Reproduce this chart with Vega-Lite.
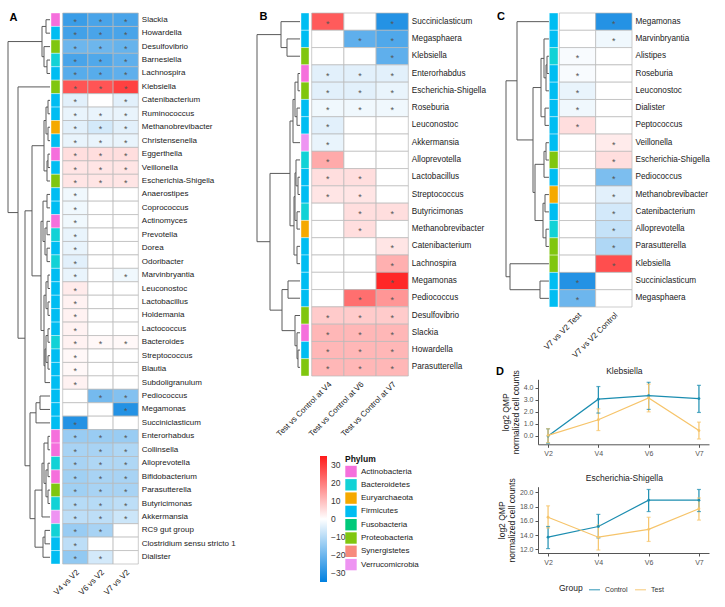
{
"$schema": "https://vega.github.io/schema/vega-lite/v6.json",
"width": 725, "height": 607, "autosize": {"type": "none"}, "padding": 0, "background": "white",
"config": {"view": {"stroke": null}, "font": "Liberation Sans", "axis": {"grid": false, "labelFont": "Liberation Sans", "titleFont": "Liberation Sans"}, "legend": {"labelFont": "Liberation Sans", "titleFont": "Liberation Sans"}, "text": {"font": "Liberation Sans"}},
"datasets": {
"heatA": [
{"g":"Slackia","p":"Actinobacteria","c":"V4 vs V2","v":-27,"s":1},{"g":"Slackia","p":"Actinobacteria","c":"V6 vs V2","v":-25,"s":1},{"g":"Slackia","p":"Actinobacteria","c":"V7 vs V2","v":-25,"s":1},
{"g":"Howardella","p":"Firmicutes","c":"V4 vs V2","v":-26,"s":1},{"g":"Howardella","p":"Firmicutes","c":"V6 vs V2","v":-25,"s":1},{"g":"Howardella","p":"Firmicutes","c":"V7 vs V2","v":-25,"s":1},
{"g":"Desulfovibrio","p":"Proteobacteria","c":"V4 vs V2","v":-20,"s":1},{"g":"Desulfovibrio","p":"Proteobacteria","c":"V6 vs V2","v":-20,"s":1},{"g":"Desulfovibrio","p":"Proteobacteria","c":"V7 vs V2","v":-21,"s":1},
{"g":"Barnesiella","p":"Bacteroidetes","c":"V4 vs V2","v":-25,"s":1},{"g":"Barnesiella","p":"Bacteroidetes","c":"V6 vs V2","v":-24,"s":1},{"g":"Barnesiella","p":"Bacteroidetes","c":"V7 vs V2","v":-22,"s":1},
{"g":"Lachnospira","p":"Firmicutes","c":"V4 vs V2","v":-23,"s":1},{"g":"Lachnospira","p":"Firmicutes","c":"V6 vs V2","v":-23,"s":1},{"g":"Lachnospira","p":"Firmicutes","c":"V7 vs V2","v":-22,"s":1},
{"g":"Klebsiella","p":"Proteobacteria","c":"V4 vs V2","v":26,"s":1},{"g":"Klebsiella","p":"Proteobacteria","c":"V6 vs V2","v":26,"s":1},{"g":"Klebsiella","p":"Proteobacteria","c":"V7 vs V2","v":29,"s":1},
{"g":"Catenibacterium","p":"Firmicutes","c":"V4 vs V2","v":-4,"s":1},{"g":"Catenibacterium","p":"Firmicutes","c":"V6 vs V2","v":0,"s":0},{"g":"Catenibacterium","p":"Firmicutes","c":"V7 vs V2","v":-4,"s":1},
{"g":"Ruminococcus","p":"Firmicutes","c":"V4 vs V2","v":-3,"s":1},{"g":"Ruminococcus","p":"Firmicutes","c":"V6 vs V2","v":-3,"s":1},{"g":"Ruminococcus","p":"Firmicutes","c":"V7 vs V2","v":-3,"s":1},
{"g":"Methanobrevibacter","p":"Euryarchaeota","c":"V4 vs V2","v":-4,"s":1},{"g":"Methanobrevibacter","p":"Euryarchaeota","c":"V6 vs V2","v":-6,"s":1},{"g":"Methanobrevibacter","p":"Euryarchaeota","c":"V7 vs V2","v":-4,"s":1},
{"g":"Christensenella","p":"Firmicutes","c":"V4 vs V2","v":-3,"s":1},{"g":"Christensenella","p":"Firmicutes","c":"V6 vs V2","v":-3,"s":1},{"g":"Christensenella","p":"Firmicutes","c":"V7 vs V2","v":-3,"s":1},
{"g":"Eggerthella","p":"Actinobacteria","c":"V4 vs V2","v":5,"s":1},{"g":"Eggerthella","p":"Actinobacteria","c":"V6 vs V2","v":5,"s":1},{"g":"Eggerthella","p":"Actinobacteria","c":"V7 vs V2","v":5,"s":1},
{"g":"Veillonella","p":"Firmicutes","c":"V4 vs V2","v":4,"s":1},{"g":"Veillonella","p":"Firmicutes","c":"V6 vs V2","v":4,"s":1},{"g":"Veillonella","p":"Firmicutes","c":"V7 vs V2","v":4,"s":1},
{"g":"Escherichia-Shigella","p":"Proteobacteria","c":"V4 vs V2","v":4,"s":1},{"g":"Escherichia-Shigella","p":"Proteobacteria","c":"V6 vs V2","v":4,"s":1},{"g":"Escherichia-Shigella","p":"Proteobacteria","c":"V7 vs V2","v":4,"s":1},
{"g":"Anaerostipes","p":"Firmicutes","c":"V4 vs V2","v":-2,"s":1},{"g":"Anaerostipes","p":"Firmicutes","c":"V6 vs V2","v":0,"s":0},{"g":"Anaerostipes","p":"Firmicutes","c":"V7 vs V2","v":0,"s":0},
{"g":"Coprococcus","p":"Firmicutes","c":"V4 vs V2","v":-2,"s":1},{"g":"Coprococcus","p":"Firmicutes","c":"V6 vs V2","v":0,"s":0},{"g":"Coprococcus","p":"Firmicutes","c":"V7 vs V2","v":0,"s":0},
{"g":"Actinomyces","p":"Actinobacteria","c":"V4 vs V2","v":-2,"s":1},{"g":"Actinomyces","p":"Actinobacteria","c":"V6 vs V2","v":0,"s":0},{"g":"Actinomyces","p":"Actinobacteria","c":"V7 vs V2","v":0,"s":0},
{"g":"Prevotella","p":"Bacteroidetes","c":"V4 vs V2","v":-3,"s":1},{"g":"Prevotella","p":"Bacteroidetes","c":"V6 vs V2","v":0,"s":0},{"g":"Prevotella","p":"Bacteroidetes","c":"V7 vs V2","v":0,"s":0},
{"g":"Dorea","p":"Firmicutes","c":"V4 vs V2","v":-3,"s":1},{"g":"Dorea","p":"Firmicutes","c":"V6 vs V2","v":0,"s":0},{"g":"Dorea","p":"Firmicutes","c":"V7 vs V2","v":0,"s":0},
{"g":"Odoribacter","p":"Bacteroidetes","c":"V4 vs V2","v":-4,"s":1},{"g":"Odoribacter","p":"Bacteroidetes","c":"V6 vs V2","v":0,"s":0},{"g":"Odoribacter","p":"Bacteroidetes","c":"V7 vs V2","v":0,"s":0},
{"g":"Marvinbryantia","p":"Firmicutes","c":"V4 vs V2","v":-3,"s":1},{"g":"Marvinbryantia","p":"Firmicutes","c":"V6 vs V2","v":0,"s":0},{"g":"Marvinbryantia","p":"Firmicutes","c":"V7 vs V2","v":-2,"s":1},
{"g":"Leuconostoc","p":"Firmicutes","c":"V4 vs V2","v":3,"s":1},{"g":"Leuconostoc","p":"Firmicutes","c":"V6 vs V2","v":0,"s":0},{"g":"Leuconostoc","p":"Firmicutes","c":"V7 vs V2","v":0,"s":0},
{"g":"Lactobacillus","p":"Firmicutes","c":"V4 vs V2","v":2,"s":1},{"g":"Lactobacillus","p":"Firmicutes","c":"V6 vs V2","v":0,"s":0},{"g":"Lactobacillus","p":"Firmicutes","c":"V7 vs V2","v":0,"s":0},
{"g":"Holdemania","p":"Firmicutes","c":"V4 vs V2","v":2,"s":1},{"g":"Holdemania","p":"Firmicutes","c":"V6 vs V2","v":0,"s":0},{"g":"Holdemania","p":"Firmicutes","c":"V7 vs V2","v":0,"s":0},
{"g":"Lactococcus","p":"Firmicutes","c":"V4 vs V2","v":2,"s":1},{"g":"Lactococcus","p":"Firmicutes","c":"V6 vs V2","v":0,"s":0},{"g":"Lactococcus","p":"Firmicutes","c":"V7 vs V2","v":0,"s":0},
{"g":"Bacteroides","p":"Bacteroidetes","c":"V4 vs V2","v":2,"s":1},{"g":"Bacteroides","p":"Bacteroidetes","c":"V6 vs V2","v":1,"s":1},{"g":"Bacteroides","p":"Bacteroidetes","c":"V7 vs V2","v":1,"s":1},
{"g":"Streptococcus","p":"Firmicutes","c":"V4 vs V2","v":1,"s":1},{"g":"Streptococcus","p":"Firmicutes","c":"V6 vs V2","v":0,"s":0},{"g":"Streptococcus","p":"Firmicutes","c":"V7 vs V2","v":0,"s":0},
{"g":"Blautia","p":"Firmicutes","c":"V4 vs V2","v":1,"s":1},{"g":"Blautia","p":"Firmicutes","c":"V6 vs V2","v":0,"s":0},{"g":"Blautia","p":"Firmicutes","c":"V7 vs V2","v":0,"s":0},
{"g":"Subdoligranulum","p":"Firmicutes","c":"V4 vs V2","v":2,"s":1},{"g":"Subdoligranulum","p":"Firmicutes","c":"V6 vs V2","v":0,"s":0},{"g":"Subdoligranulum","p":"Firmicutes","c":"V7 vs V2","v":0,"s":0},
{"g":"Pediococcus","p":"Firmicutes","c":"V4 vs V2","v":0,"s":0},{"g":"Pediococcus","p":"Firmicutes","c":"V6 vs V2","v":-19,"s":1},{"g":"Pediococcus","p":"Firmicutes","c":"V7 vs V2","v":-17,"s":1},
{"g":"Megamonas","p":"Firmicutes","c":"V4 vs V2","v":0,"s":0},{"g":"Megamonas","p":"Firmicutes","c":"V6 vs V2","v":0,"s":0},{"g":"Megamonas","p":"Firmicutes","c":"V7 vs V2","v":-30,"s":1},
{"g":"Succiniclasticum","p":"Firmicutes","c":"V4 vs V2","v":-30,"s":1},{"g":"Succiniclasticum","p":"Firmicutes","c":"V6 vs V2","v":0,"s":0},{"g":"Succiniclasticum","p":"Firmicutes","c":"V7 vs V2","v":0,"s":0},
{"g":"Enterorhabdus","p":"Actinobacteria","c":"V4 vs V2","v":-14,"s":1},{"g":"Enterorhabdus","p":"Actinobacteria","c":"V6 vs V2","v":-14,"s":1},{"g":"Enterorhabdus","p":"Actinobacteria","c":"V7 vs V2","v":-14,"s":1},
{"g":"Collinsella","p":"Actinobacteria","c":"V4 vs V2","v":-12,"s":1},{"g":"Collinsella","p":"Actinobacteria","c":"V6 vs V2","v":-12,"s":1},{"g":"Collinsella","p":"Actinobacteria","c":"V7 vs V2","v":-11,"s":1},
{"g":"Alloprevotella","p":"Bacteroidetes","c":"V4 vs V2","v":-12,"s":1},{"g":"Alloprevotella","p":"Bacteroidetes","c":"V6 vs V2","v":-11,"s":1},{"g":"Alloprevotella","p":"Bacteroidetes","c":"V7 vs V2","v":-11,"s":1},
{"g":"Bifidobacterium","p":"Actinobacteria","c":"V4 vs V2","v":-13,"s":1},{"g":"Bifidobacterium","p":"Actinobacteria","c":"V6 vs V2","v":-12,"s":1},{"g":"Bifidobacterium","p":"Actinobacteria","c":"V7 vs V2","v":-12,"s":1},
{"g":"Parasutterella","p":"Proteobacteria","c":"V4 vs V2","v":-13,"s":1},{"g":"Parasutterella","p":"Proteobacteria","c":"V6 vs V2","v":-12,"s":1},{"g":"Parasutterella","p":"Proteobacteria","c":"V7 vs V2","v":-12,"s":1},
{"g":"Butyricimonas","p":"Bacteroidetes","c":"V4 vs V2","v":-10,"s":1},{"g":"Butyricimonas","p":"Bacteroidetes","c":"V6 vs V2","v":-10,"s":1},{"g":"Butyricimonas","p":"Bacteroidetes","c":"V7 vs V2","v":-9,"s":1},
{"g":"Akkermansia","p":"Verrucomicrobia","c":"V4 vs V2","v":-9,"s":1},{"g":"Akkermansia","p":"Verrucomicrobia","c":"V6 vs V2","v":-9,"s":1},{"g":"Akkermansia","p":"Verrucomicrobia","c":"V7 vs V2","v":-7,"s":1},
{"g":"RC9 gut group","p":"Bacteroidetes","c":"V4 vs V2","v":-14,"s":1},{"g":"RC9 gut group","p":"Bacteroidetes","c":"V6 vs V2","v":-12,"s":1},{"g":"RC9 gut group","p":"Bacteroidetes","c":"V7 vs V2","v":0,"s":0},
{"g":"Clostridium sensu stricto 1","p":"Firmicutes","c":"V4 vs V2","v":-9,"s":1},{"g":"Clostridium sensu stricto 1","p":"Firmicutes","c":"V6 vs V2","v":0,"s":0},{"g":"Clostridium sensu stricto 1","p":"Firmicutes","c":"V7 vs V2","v":0,"s":0},
{"g":"Dialister","p":"Firmicutes","c":"V4 vs V2","v":-15,"s":1},{"g":"Dialister","p":"Firmicutes","c":"V6 vs V2","v":-6,"s":1},{"g":"Dialister","p":"Firmicutes","c":"V7 vs V2","v":0,"s":0}
],
"heatB": [
{"g":"Succiniclasticum","p":"Firmicutes","c":"Test vs Control at V4","v":25,"s":1},{"g":"Succiniclasticum","p":"Firmicutes","c":"Test vs Control at V6","v":0,"s":0},{"g":"Succiniclasticum","p":"Firmicutes","c":"Test vs Control at V7","v":-30,"s":1},
{"g":"Megasphaera","p":"Firmicutes","c":"Test vs Control at V4","v":0,"s":0},{"g":"Megasphaera","p":"Firmicutes","c":"Test vs Control at V6","v":-22,"s":1},{"g":"Megasphaera","p":"Firmicutes","c":"Test vs Control at V7","v":-24,"s":1},
{"g":"Klebsiella","p":"Proteobacteria","c":"Test vs Control at V4","v":0,"s":0},{"g":"Klebsiella","p":"Proteobacteria","c":"Test vs Control at V6","v":0,"s":0},{"g":"Klebsiella","p":"Proteobacteria","c":"Test vs Control at V7","v":-22,"s":1},
{"g":"Enterorhabdus","p":"Actinobacteria","c":"Test vs Control at V4","v":-4,"s":1},{"g":"Enterorhabdus","p":"Actinobacteria","c":"Test vs Control at V6","v":-4,"s":1},{"g":"Enterorhabdus","p":"Actinobacteria","c":"Test vs Control at V7","v":-4,"s":1},
{"g":"Escherichia-Shigella","p":"Proteobacteria","c":"Test vs Control at V4","v":-4,"s":1},{"g":"Escherichia-Shigella","p":"Proteobacteria","c":"Test vs Control at V6","v":-4,"s":1},{"g":"Escherichia-Shigella","p":"Proteobacteria","c":"Test vs Control at V7","v":-3,"s":1},
{"g":"Roseburia","p":"Firmicutes","c":"Test vs Control at V4","v":-2,"s":1},{"g":"Roseburia","p":"Firmicutes","c":"Test vs Control at V6","v":-2,"s":1},{"g":"Roseburia","p":"Firmicutes","c":"Test vs Control at V7","v":-2,"s":1},
{"g":"Leuconostoc","p":"Firmicutes","c":"Test vs Control at V4","v":-4,"s":1},{"g":"Leuconostoc","p":"Firmicutes","c":"Test vs Control at V6","v":0,"s":0},{"g":"Leuconostoc","p":"Firmicutes","c":"Test vs Control at V7","v":0,"s":0},
{"g":"Akkermansia","p":"Verrucomicrobia","c":"Test vs Control at V4","v":-3,"s":1},{"g":"Akkermansia","p":"Verrucomicrobia","c":"Test vs Control at V6","v":0,"s":0},{"g":"Akkermansia","p":"Verrucomicrobia","c":"Test vs Control at V7","v":0,"s":0},
{"g":"Alloprevotella","p":"Bacteroidetes","c":"Test vs Control at V4","v":13,"s":1},{"g":"Alloprevotella","p":"Bacteroidetes","c":"Test vs Control at V6","v":0,"s":0},{"g":"Alloprevotella","p":"Bacteroidetes","c":"Test vs Control at V7","v":0,"s":0},
{"g":"Lactobacillus","p":"Firmicutes","c":"Test vs Control at V4","v":5,"s":1},{"g":"Lactobacillus","p":"Firmicutes","c":"Test vs Control at V6","v":5,"s":1},{"g":"Lactobacillus","p":"Firmicutes","c":"Test vs Control at V7","v":0,"s":0},
{"g":"Streptococcus","p":"Firmicutes","c":"Test vs Control at V4","v":4,"s":1},{"g":"Streptococcus","p":"Firmicutes","c":"Test vs Control at V6","v":4,"s":1},{"g":"Streptococcus","p":"Firmicutes","c":"Test vs Control at V7","v":0,"s":0},
{"g":"Butyricimonas","p":"Bacteroidetes","c":"Test vs Control at V4","v":0,"s":0},{"g":"Butyricimonas","p":"Bacteroidetes","c":"Test vs Control at V6","v":5,"s":1},{"g":"Butyricimonas","p":"Bacteroidetes","c":"Test vs Control at V7","v":5,"s":1},
{"g":"Methanobrevibacter","p":"Euryarchaeota","c":"Test vs Control at V4","v":0,"s":0},{"g":"Methanobrevibacter","p":"Euryarchaeota","c":"Test vs Control at V6","v":5,"s":1},{"g":"Methanobrevibacter","p":"Euryarchaeota","c":"Test vs Control at V7","v":0,"s":0},
{"g":"Catenibacterium","p":"Firmicutes","c":"Test vs Control at V4","v":0,"s":0},{"g":"Catenibacterium","p":"Firmicutes","c":"Test vs Control at V6","v":0,"s":0},{"g":"Catenibacterium","p":"Firmicutes","c":"Test vs Control at V7","v":4,"s":1},
{"g":"Lachnospira","p":"Firmicutes","c":"Test vs Control at V4","v":0,"s":0},{"g":"Lachnospira","p":"Firmicutes","c":"Test vs Control at V6","v":0,"s":0},{"g":"Lachnospira","p":"Firmicutes","c":"Test vs Control at V7","v":12,"s":1},
{"g":"Megamonas","p":"Firmicutes","c":"Test vs Control at V4","v":0,"s":0},{"g":"Megamonas","p":"Firmicutes","c":"Test vs Control at V6","v":0,"s":0},{"g":"Megamonas","p":"Firmicutes","c":"Test vs Control at V7","v":33,"s":1},
{"g":"Pediococcus","p":"Firmicutes","c":"Test vs Control at V4","v":0,"s":0},{"g":"Pediococcus","p":"Firmicutes","c":"Test vs Control at V6","v":22,"s":1},{"g":"Pediococcus","p":"Firmicutes","c":"Test vs Control at V7","v":16,"s":1},
{"g":"Desulfovibrio","p":"Proteobacteria","c":"Test vs Control at V4","v":8,"s":1},{"g":"Desulfovibrio","p":"Proteobacteria","c":"Test vs Control at V6","v":8,"s":1},{"g":"Desulfovibrio","p":"Proteobacteria","c":"Test vs Control at V7","v":8,"s":1},
{"g":"Slackia","p":"Actinobacteria","c":"Test vs Control at V4","v":11,"s":1},{"g":"Slackia","p":"Actinobacteria","c":"Test vs Control at V6","v":11,"s":1},{"g":"Slackia","p":"Actinobacteria","c":"Test vs Control at V7","v":11,"s":1},
{"g":"Howardella","p":"Firmicutes","c":"Test vs Control at V4","v":11,"s":1},{"g":"Howardella","p":"Firmicutes","c":"Test vs Control at V6","v":11,"s":1},{"g":"Howardella","p":"Firmicutes","c":"Test vs Control at V7","v":11,"s":1},
{"g":"Parasutterella","p":"Proteobacteria","c":"Test vs Control at V4","v":11,"s":1},{"g":"Parasutterella","p":"Proteobacteria","c":"Test vs Control at V6","v":11,"s":1},{"g":"Parasutterella","p":"Proteobacteria","c":"Test vs Control at V7","v":11,"s":1}
],
"heatC": [
{"g":"Megamonas","p":"Firmicutes","c":"V7 vs V2 Test","v":0,"s":0},{"g":"Megamonas","p":"Firmicutes","c":"V7 vs V2 Control","v":-30,"s":1},
{"g":"Marvinbryantia","p":"Firmicutes","c":"V7 vs V2 Test","v":0,"s":0},{"g":"Marvinbryantia","p":"Firmicutes","c":"V7 vs V2 Control","v":-2,"s":1},
{"g":"Alistipes","p":"Bacteroidetes","c":"V7 vs V2 Test","v":-1,"s":1},{"g":"Alistipes","p":"Bacteroidetes","c":"V7 vs V2 Control","v":0,"s":0},
{"g":"Roseburia","p":"Firmicutes","c":"V7 vs V2 Test","v":-1,"s":1},{"g":"Roseburia","p":"Firmicutes","c":"V7 vs V2 Control","v":0,"s":0},
{"g":"Leuconostoc","p":"Firmicutes","c":"V7 vs V2 Test","v":-3,"s":1},{"g":"Leuconostoc","p":"Firmicutes","c":"V7 vs V2 Control","v":0,"s":0},
{"g":"Dialister","p":"Firmicutes","c":"V7 vs V2 Test","v":-2,"s":1},{"g":"Dialister","p":"Firmicutes","c":"V7 vs V2 Control","v":0,"s":0},
{"g":"Peptococcus","p":"Firmicutes","c":"V7 vs V2 Test","v":5,"s":1},{"g":"Peptococcus","p":"Firmicutes","c":"V7 vs V2 Control","v":0,"s":0},
{"g":"Veillonella","p":"Firmicutes","c":"V7 vs V2 Test","v":0,"s":0},{"g":"Veillonella","p":"Firmicutes","c":"V7 vs V2 Control","v":3,"s":1},
{"g":"Escherichia-Shigella","p":"Proteobacteria","c":"V7 vs V2 Test","v":0,"s":0},{"g":"Escherichia-Shigella","p":"Proteobacteria","c":"V7 vs V2 Control","v":5,"s":1},
{"g":"Pediococcus","p":"Firmicutes","c":"V7 vs V2 Test","v":0,"s":0},{"g":"Pediococcus","p":"Firmicutes","c":"V7 vs V2 Control","v":-18,"s":1},
{"g":"Methanobrevibacter","p":"Euryarchaeota","c":"V7 vs V2 Test","v":0,"s":0},{"g":"Methanobrevibacter","p":"Euryarchaeota","c":"V7 vs V2 Control","v":-4,"s":1},
{"g":"Catenibacterium","p":"Firmicutes","c":"V7 vs V2 Test","v":0,"s":0},{"g":"Catenibacterium","p":"Firmicutes","c":"V7 vs V2 Control","v":-6,"s":1},
{"g":"Alloprevotella","p":"Bacteroidetes","c":"V7 vs V2 Test","v":0,"s":0},{"g":"Alloprevotella","p":"Bacteroidetes","c":"V7 vs V2 Control","v":-8,"s":1},
{"g":"Parasutterella","p":"Proteobacteria","c":"V7 vs V2 Test","v":0,"s":0},{"g":"Parasutterella","p":"Proteobacteria","c":"V7 vs V2 Control","v":-11,"s":1},
{"g":"Klebsiella","p":"Proteobacteria","c":"V7 vs V2 Test","v":0,"s":0},{"g":"Klebsiella","p":"Proteobacteria","c":"V7 vs V2 Control","v":27,"s":1},
{"g":"Succiniclasticum","p":"Firmicutes","c":"V7 vs V2 Test","v":-30,"s":1},{"g":"Succiniclasticum","p":"Firmicutes","c":"V7 vs V2 Control","v":0,"s":0},
{"g":"Megasphaera","p":"Firmicutes","c":"V7 vs V2 Test","v":-20,"s":1},{"g":"Megasphaera","p":"Firmicutes","c":"V7 vs V2 Control","v":0,"s":0}
],
"dendA": [
{"h1":0,"h2":4,"y1":1,"y2":1},{"h1":0,"h2":4,"y1":2,"y2":2},{"h1":4,"h2":4,"y1":1,"y2":2},
{"h1":0,"h2":3,"y1":4,"y2":4},{"h1":0,"h2":3,"y1":5,"y2":5},{"h1":3,"h2":3,"y1":4,"y2":5},
{"h1":0,"h2":6,"y1":3,"y2":3},{"h1":3,"h2":6,"y1":4.5,"y2":4.5},{"h1":6,"h2":6,"y1":3,"y2":4.5},
{"h1":4,"h2":8,"y1":1.5,"y2":1.5},{"h1":6,"h2":8,"y1":3.75,"y2":3.75},{"h1":8,"h2":8,"y1":1.5,"y2":3.75},
{"h1":0,"h2":2,"y1":7,"y2":7},{"h1":0,"h2":2,"y1":8,"y2":8},{"h1":2,"h2":2,"y1":7,"y2":8},
{"h1":0,"h2":2,"y1":9,"y2":9},{"h1":0,"h2":2,"y1":10,"y2":10},{"h1":2,"h2":2,"y1":9,"y2":10},
{"h1":2,"h2":4,"y1":7.5,"y2":7.5},{"h1":2,"h2":4,"y1":9.5,"y2":9.5},{"h1":4,"h2":4,"y1":7.5,"y2":9.5},
{"h1":0,"h2":2,"y1":11,"y2":11},{"h1":0,"h2":2,"y1":12,"y2":12},{"h1":2,"h2":2,"y1":11,"y2":12},
{"h1":2,"h2":3,"y1":11.5,"y2":11.5},{"h1":0,"h2":3,"y1":13,"y2":13},{"h1":3,"h2":3,"y1":11.5,"y2":13},
{"h1":4,"h2":6,"y1":8.5,"y2":8.5},{"h1":3,"h2":6,"y1":12.25,"y2":12.25},{"h1":6,"h2":6,"y1":8.5,"y2":12.25},
{"h1":0,"h2":3,"y1":14,"y2":14},{"h1":0,"h2":3,"y1":15,"y2":15},{"h1":3,"h2":3,"y1":14,"y2":15},
{"h1":0,"h2":3,"y1":16,"y2":16},{"h1":0,"h2":3,"y1":17,"y2":17},{"h1":3,"h2":3,"y1":16,"y2":17},
{"h1":0,"h2":3,"y1":18,"y2":18},{"h1":0,"h2":3,"y1":19,"y2":19},{"h1":3,"h2":3,"y1":18,"y2":19},
{"h1":3,"h2":5,"y1":16.5,"y2":16.5},{"h1":3,"h2":5,"y1":18.5,"y2":18.5},{"h1":5,"h2":5,"y1":16.5,"y2":18.5},
{"h1":3,"h2":7,"y1":14.5,"y2":14.5},{"h1":5,"h2":7,"y1":17.5,"y2":17.5},{"h1":7,"h2":7,"y1":14.5,"y2":17.5},
{"h1":0,"h2":2,"y1":20,"y2":20},{"h1":0,"h2":2,"y1":21,"y2":21},{"h1":2,"h2":2,"y1":20,"y2":21},
{"h1":0,"h2":2,"y1":22,"y2":22},{"h1":0,"h2":2,"y1":23,"y2":23},{"h1":2,"h2":2,"y1":22,"y2":23},
{"h1":0,"h2":2,"y1":24,"y2":24},{"h1":0,"h2":2,"y1":25,"y2":25},{"h1":2,"h2":2,"y1":24,"y2":25},
{"h1":0,"h2":2,"y1":26,"y2":26},{"h1":0,"h2":2,"y1":27,"y2":27},{"h1":2,"h2":2,"y1":26,"y2":27},
{"h1":2,"h2":4,"y1":20.5,"y2":20.5},{"h1":2,"h2":4,"y1":22.5,"y2":22.5},{"h1":4,"h2":4,"y1":20.5,"y2":22.5},
{"h1":2,"h2":4,"y1":24.5,"y2":24.5},{"h1":2,"h2":4,"y1":26.5,"y2":26.5},{"h1":4,"h2":4,"y1":24.5,"y2":26.5},
{"h1":4,"h2":5,"y1":25.5,"y2":25.5},{"h1":0,"h2":5,"y1":28,"y2":28},{"h1":5,"h2":5,"y1":25.5,"y2":28},
{"h1":4,"h2":6,"y1":21.5,"y2":21.5},{"h1":5,"h2":6,"y1":26.75,"y2":26.75},{"h1":6,"h2":6,"y1":21.5,"y2":26.75},
{"h1":7,"h2":9,"y1":16,"y2":16},{"h1":6,"h2":9,"y1":24.125,"y2":24.125},{"h1":9,"h2":9,"y1":16,"y2":24.125},
{"h1":6,"h2":18,"y1":10.375,"y2":10.375},{"h1":9,"h2":18,"y1":20.06,"y2":20.06},{"h1":18,"h2":18,"y1":10.375,"y2":20.06},
{"h1":0,"h2":10,"y1":29,"y2":29},{"h1":0,"h2":10,"y1":30,"y2":30},{"h1":10,"h2":10,"y1":29,"y2":30},
{"h1":10,"h2":14,"y1":29.5,"y2":29.5},{"h1":0,"h2":14,"y1":31,"y2":31},{"h1":14,"h2":14,"y1":29.5,"y2":31},
{"h1":0,"h2":2,"y1":32,"y2":32},{"h1":0,"h2":2,"y1":33,"y2":33},{"h1":2,"h2":2,"y1":32,"y2":33},
{"h1":0,"h2":2,"y1":34,"y2":34},{"h1":0,"h2":2,"y1":35,"y2":35},{"h1":2,"h2":2,"y1":34,"y2":35},
{"h1":0,"h2":2,"y1":36,"y2":36},{"h1":0,"h2":2,"y1":37,"y2":37},{"h1":2,"h2":2,"y1":36,"y2":37},
{"h1":2,"h2":4,"y1":34.5,"y2":34.5},{"h1":2,"h2":4,"y1":36.5,"y2":36.5},{"h1":4,"h2":4,"y1":34.5,"y2":36.5},
{"h1":2,"h2":6,"y1":32.5,"y2":32.5},{"h1":4,"h2":6,"y1":35.5,"y2":35.5},{"h1":6,"h2":6,"y1":32.5,"y2":35.5},
{"h1":6,"h2":8,"y1":34,"y2":34},{"h1":0,"h2":8,"y1":38,"y2":38},{"h1":8,"h2":8,"y1":34,"y2":38},
{"h1":0,"h2":5,"y1":39,"y2":39},{"h1":0,"h2":5,"y1":40,"y2":40},{"h1":5,"h2":5,"y1":39,"y2":40},
{"h1":5,"h2":7,"y1":39.5,"y2":39.5},{"h1":0,"h2":7,"y1":41,"y2":41},{"h1":7,"h2":7,"y1":39.5,"y2":41},
{"h1":8,"h2":15,"y1":36,"y2":36},{"h1":7,"h2":15,"y1":40.25,"y2":40.25},{"h1":15,"h2":15,"y1":36,"y2":40.25},
{"h1":14,"h2":20,"y1":30.25,"y2":30.25},{"h1":15,"h2":20,"y1":38.125,"y2":38.125},{"h1":20,"h2":20,"y1":30.25,"y2":38.125},
{"h1":18,"h2":25,"y1":15.22,"y2":15.22},{"h1":20,"h2":25,"y1":34.19,"y2":34.19},{"h1":25,"h2":25,"y1":15.22,"y2":34.19},
{"h1":0,"h2":32,"y1":6,"y2":6},{"h1":25,"h2":32,"y1":24.7,"y2":24.7},{"h1":32,"h2":32,"y1":6,"y2":24.7},
{"h1":8,"h2":42,"y1":2.625,"y2":2.625},{"h1":32,"h2":42,"y1":15.35,"y2":15.35},{"h1":42,"h2":42,"y1":2.625,"y2":15.35}
],
"dendB": [
{"h1":0,"h2":13,"y1":2,"y2":2},{"h1":0,"h2":13,"y1":3,"y2":3},{"h1":13,"h2":13,"y1":2,"y2":3},
{"h1":0,"h2":19,"y1":1,"y2":1},{"h1":13,"h2":19,"y1":2.5,"y2":2.5},{"h1":19,"h2":19,"y1":1,"y2":2.5},
{"h1":0,"h2":2,"y1":4,"y2":4},{"h1":0,"h2":2,"y1":5,"y2":5},{"h1":2,"h2":2,"y1":4,"y2":5},
{"h1":0,"h2":3,"y1":6,"y2":6},{"h1":0,"h2":3,"y1":7,"y2":7},{"h1":3,"h2":3,"y1":6,"y2":7},
{"h1":2,"h2":5,"y1":4.5,"y2":4.5},{"h1":3,"h2":5,"y1":6.5,"y2":6.5},{"h1":5,"h2":5,"y1":4.5,"y2":6.5},
{"h1":5,"h2":7,"y1":5.5,"y2":5.5},{"h1":0,"h2":7,"y1":8,"y2":8},{"h1":7,"h2":7,"y1":5.5,"y2":8},
{"h1":0,"h2":2,"y1":10,"y2":10},{"h1":0,"h2":2,"y1":11,"y2":11},{"h1":2,"h2":2,"y1":10,"y2":11},
{"h1":0,"h2":4,"y1":9,"y2":9},{"h1":2,"h2":4,"y1":10.5,"y2":10.5},{"h1":4,"h2":4,"y1":9,"y2":10.5},
{"h1":0,"h2":3,"y1":12,"y2":12},{"h1":0,"h2":3,"y1":13,"y2":13},{"h1":3,"h2":3,"y1":12,"y2":13},
{"h1":4,"h2":5,"y1":9.75,"y2":9.75},{"h1":3,"h2":5,"y1":12.5,"y2":12.5},{"h1":5,"h2":5,"y1":9.75,"y2":12.5},
{"h1":0,"h2":3,"y1":14,"y2":14},{"h1":0,"h2":3,"y1":15,"y2":15},{"h1":3,"h2":3,"y1":14,"y2":15},
{"h1":5,"h2":6,"y1":11.125,"y2":11.125},{"h1":3,"h2":6,"y1":14.5,"y2":14.5},{"h1":6,"h2":6,"y1":11.125,"y2":14.5},
{"h1":7,"h2":10,"y1":6.75,"y2":6.75},{"h1":6,"h2":10,"y1":12.81,"y2":12.81},{"h1":10,"h2":10,"y1":6.75,"y2":12.81},
{"h1":0,"h2":12,"y1":16,"y2":16},{"h1":0,"h2":12,"y1":17,"y2":17},{"h1":12,"h2":12,"y1":16,"y2":17},
{"h1":0,"h2":2,"y1":20,"y2":20},{"h1":0,"h2":2,"y1":21,"y2":21},{"h1":2,"h2":2,"y1":20,"y2":21},
{"h1":0,"h2":3,"y1":19,"y2":19},{"h1":2,"h2":3,"y1":20.5,"y2":20.5},{"h1":3,"h2":3,"y1":19,"y2":20.5},
{"h1":0,"h2":5,"y1":18,"y2":18},{"h1":3,"h2":5,"y1":19.75,"y2":19.75},{"h1":5,"h2":5,"y1":18,"y2":19.75},
{"h1":12,"h2":18,"y1":16.5,"y2":16.5},{"h1":5,"h2":18,"y1":18.875,"y2":18.875},{"h1":18,"h2":18,"y1":16.5,"y2":18.875},
{"h1":10,"h2":30,"y1":9.78,"y2":9.78},{"h1":18,"h2":30,"y1":17.69,"y2":17.69},{"h1":30,"h2":30,"y1":9.78,"y2":17.69},
{"h1":19,"h2":43,"y1":1.75,"y2":1.75},{"h1":30,"h2":43,"y1":13.73,"y2":13.73},{"h1":43,"h2":43,"y1":1.75,"y2":13.73}
],
"dendC": [
{"h1":0,"h2":2,"y1":3,"y2":3},{"h1":0,"h2":2,"y1":4,"y2":4},{"h1":2,"h2":2,"y1":3,"y2":4},
{"h1":2,"h2":3,"y1":3.5,"y2":3.5},{"h1":0,"h2":3,"y1":5,"y2":5},{"h1":3,"h2":3,"y1":3.5,"y2":5},
{"h1":0,"h2":5,"y1":2,"y2":2},{"h1":3,"h2":5,"y1":4.25,"y2":4.25},{"h1":5,"h2":5,"y1":2,"y2":4.25},
{"h1":0,"h2":4,"y1":6,"y2":6},{"h1":0,"h2":4,"y1":7,"y2":7},{"h1":4,"h2":4,"y1":6,"y2":7},
{"h1":5,"h2":8,"y1":3.125,"y2":3.125},{"h1":4,"h2":8,"y1":6.5,"y2":6.5},{"h1":8,"h2":8,"y1":3.125,"y2":6.5},
{"h1":0,"h2":3,"y1":8,"y2":8},{"h1":0,"h2":3,"y1":9,"y2":9},{"h1":3,"h2":3,"y1":8,"y2":9},
{"h1":3,"h2":5,"y1":8.5,"y2":8.5},{"h1":0,"h2":5,"y1":10,"y2":10},{"h1":5,"h2":5,"y1":8.5,"y2":10},
{"h1":0,"h2":4,"y1":11,"y2":11},{"h1":0,"h2":4,"y1":12,"y2":12},{"h1":4,"h2":4,"y1":11,"y2":12},
{"h1":0,"h2":3,"y1":13,"y2":13},{"h1":0,"h2":3,"y1":14,"y2":14},{"h1":3,"h2":3,"y1":13,"y2":14},
{"h1":4,"h2":6,"y1":11.5,"y2":11.5},{"h1":3,"h2":6,"y1":13.5,"y2":13.5},{"h1":6,"h2":6,"y1":11.5,"y2":13.5},
{"h1":5,"h2":14,"y1":9.25,"y2":9.25},{"h1":6,"h2":14,"y1":12.5,"y2":12.5},{"h1":14,"h2":14,"y1":9.25,"y2":12.5},
{"h1":8,"h2":16,"y1":4.81,"y2":4.81},{"h1":14,"h2":16,"y1":10.875,"y2":10.875},{"h1":16,"h2":16,"y1":4.81,"y2":10.875},
{"h1":0,"h2":32,"y1":1,"y2":1},{"h1":16,"h2":32,"y1":7.84,"y2":7.84},{"h1":32,"h2":32,"y1":1,"y2":7.84},
{"h1":0,"h2":9,"y1":16,"y2":16},{"h1":0,"h2":9,"y1":17,"y2":17},{"h1":9,"h2":9,"y1":16,"y2":17},
{"h1":0,"h2":39,"y1":15,"y2":15},{"h1":9,"h2":39,"y1":16.5,"y2":16.5},{"h1":39,"h2":39,"y1":15,"y2":16.5},
{"h1":32,"h2":43,"y1":4.42,"y2":4.42},{"h1":39,"h2":43,"y1":15.75,"y2":15.75},{"h1":43,"h2":43,"y1":4.42,"y2":15.75}
],
"qmp": [
{"gen":"Klebsiella","grp":"Control","vis":"V2","m":0,"lo":-0.6,"hi":0.6},
{"gen":"Klebsiella","grp":"Control","vis":"V4","m":3.05,"lo":1.9,"hi":4.1},
{"gen":"Klebsiella","grp":"Control","vis":"V6","m":3.35,"lo":2.2,"hi":4.45},
{"gen":"Klebsiella","grp":"Control","vis":"V7","m":3.1,"lo":1.95,"hi":4.2},
{"gen":"Klebsiella","grp":"Test","vis":"V2","m":0.05,"lo":-0.55,"hi":0.6},
{"gen":"Klebsiella","grp":"Test","vis":"V4","m":1.35,"lo":0.45,"hi":2.25},
{"gen":"Klebsiella","grp":"Test","vis":"V6","m":3.15,"lo":2.0,"hi":4.3},
{"gen":"Klebsiella","grp":"Test","vis":"V7","m":0.45,"lo":-0.25,"hi":1.15},
{"gen":"Escherichia-Shigella","grp":"Control","vis":"V2","m":13.7,"lo":12.1,"hi":15.2},
{"gen":"Escherichia-Shigella","grp":"Control","vis":"V4","m":15.2,"lo":13.6,"hi":16.9},
{"gen":"Escherichia-Shigella","grp":"Control","vis":"V6","m":18.9,"lo":17.3,"hi":20.4},
{"gen":"Escherichia-Shigella","grp":"Control","vis":"V7","m":18.9,"lo":17.3,"hi":20.4},
{"gen":"Escherichia-Shigella","grp":"Test","vis":"V2","m":16.5,"lo":15.0,"hi":18.1},
{"gen":"Escherichia-Shigella","grp":"Test","vis":"V4","m":13.7,"lo":11.9,"hi":15.4},
{"gen":"Escherichia-Shigella","grp":"Test","vis":"V6","m":14.8,"lo":13.1,"hi":16.5},
{"gen":"Escherichia-Shigella","grp":"Test","vis":"V7","m":17.7,"lo":16.1,"hi":19.2}
]
},
"layer": [
{"data": {"name": "dendA"}, "layer": [
 {"mark": {"type": "rule", "color": "#5a5a5a", "strokeWidth": 1},
  "encoding": {"x": {"field": "h1", "type": "quantitative", "scale": {"domain": [0, 42], "range": [50, 8], "zero": false, "nice": false}, "axis": null},
   "x2": {"field": "h2"},
   "y": {"field": "y1", "type": "quantitative", "scale": {"domain": [0.5, 41.5], "range": [13, 564], "zero": false, "nice": false}, "axis": null},
   "y2": {"field": "y2"}}},
 {"data": {"values": [{"t": "A"}]}, "mark": {"type": "text", "fontSize": 11, "fontWeight": "bold", "color": "#000"},
  "encoding": {"x": {"datum": 36.5, "type": "quantitative"}, "y": {"datum": 0.87, "type": "quantitative"}, "text": {"field": "t"}}}
]},
{"data": {"name": "heatA"}, "transform": [{"filter": "datum.c == 'V4 vs V2'"}],
 "mark": {"type": "rect", "stroke": "#ffffff", "strokeWidth": 0.4},
 "encoding": {"x": {"datum": "Phylum", "type": "nominal", "scale": {"range": [51, 60], "paddingInner": 0, "paddingOuter": 0}, "axis": null},
  "y": {"field": "g", "type": "nominal", "sort": null, "scale": {"range": [13, 564], "paddingInner": 0, "paddingOuter": 0}, "axis": null},
  "color": {"field": "p", "type": "nominal", "scale": {"domain": ["Actinobacteria","Bacteroidetes","Euryarchaeota","Firmicutes","Fusobacteria","Proteobacteria","Synergistetes","Verrucomicrobia"], "range": ["#f56fdc","#12d2d6","#f5a900","#00bdf2","#00c97a","#80c60f","#f78a7c","#ee94f2"]},
   "legend": {"orient": "none", "legendX": 345, "legendY": 455, "title": "Phylum", "titleFontSize": 8.5, "titleFontWeight": "bold", "titleColor": "#111", "titlePadding": 2, "labelFontSize": 8, "labelColor": "#222", "symbolType": "square", "symbolSize": 130, "symbolStrokeWidth": 0, "symbolOpacity": 1, "rowPadding": 1.3, "labelOffset": 4, "padding": 0}}}},
{"data": {"name": "heatA"}, "layer": [
 {"mark": {"type": "rect", "stroke": "#b8b8b8", "strokeWidth": 0.7},
  "encoding": {"x": {"field": "c", "type": "nominal", "sort": null, "scale": {"range": [62.7, 138.3], "paddingInner": 0, "paddingOuter": 0}, "axis": {"orient": "bottom", "offset": -43, "title": null, "labelAngle": -45, "ticks": false, "domain": false, "labelFontSize": 8, "labelColor": "#1a1a1a", "labelPadding": 4}},
   "y": {"field": "g", "type": "nominal", "sort": null, "scale": {"range": [13, 564], "paddingInner": 0, "paddingOuter": 0}, "axis": {"orient": "right", "offset": -586.7, "title": null, "ticks": false, "domain": false, "labelFontSize": 8, "labelColor": "#1a1a1a", "labelPadding": 3}},
   "color": {"field": "v", "type": "quantitative", "scale": {"domain": [-35, 0, 35], "range": ["#0080e0", "#ffffff", "#ff1a1a"], "interpolate": "rgb"},
    "legend": {"orient": "none", "legendX": 320, "legendY": 456, "direction": "vertical", "gradientLength": 126, "gradientThickness": 7, "title": null, "values": [-30, -20, -10, 0, 10, 20, 30], "labelFontSize": 8.5, "labelColor": "#333", "labelOffset": 4, "gradientStrokeWidth": 0, "padding": 0}}}},
 {"mark": {"type": "text", "fontSize": 9, "color": "#555", "dy": 2},
  "encoding": {"x": {"field": "c", "type": "nominal", "sort": null}, "y": {"field": "g", "type": "nominal", "sort": null},
   "text": {"condition": {"test": "datum.s == 1", "value": "*"}, "value": ""}}}
]},
{"data": {"name": "dendB"}, "layer": [
 {"mark": {"type": "rule", "color": "#5a5a5a", "strokeWidth": 1},
  "encoding": {"x": {"field": "h1", "type": "quantitative", "scale": {"domain": [0, 43], "range": [300, 257], "zero": false, "nice": false}, "axis": null},
   "x2": {"field": "h2"},
   "y": {"field": "y1", "type": "quantitative", "scale": {"domain": [0.5, 21.5], "range": [13, 376], "zero": false, "nice": false}, "axis": null},
   "y2": {"field": "y2"}}},
 {"data": {"values": [{"t": "B"}]}, "mark": {"type": "text", "fontSize": 11, "fontWeight": "bold", "color": "#000"},
  "encoding": {"x": {"datum": 36.5, "type": "quantitative"}, "y": {"datum": 0.73, "type": "quantitative"}, "text": {"field": "t"}}}
]},
{"data": {"name": "heatB"}, "transform": [{"filter": "datum.c == 'Test vs Control at V4'"}],
 "mark": {"type": "rect", "stroke": "#ffffff", "strokeWidth": 0.4},
 "encoding": {"x": {"datum": "Phylum", "type": "nominal", "scale": {"range": [301, 309], "paddingInner": 0, "paddingOuter": 0}, "axis": null},
  "y": {"field": "g", "type": "nominal", "sort": null, "scale": {"range": [13, 376], "paddingInner": 0, "paddingOuter": 0}, "axis": null},
  "color": {"field": "p", "type": "nominal", "scale": {"domain": ["Actinobacteria","Bacteroidetes","Euryarchaeota","Firmicutes","Fusobacteria","Proteobacteria","Synergistetes","Verrucomicrobia"], "range": ["#f56fdc","#12d2d6","#f5a900","#00bdf2","#00c97a","#80c60f","#f78a7c","#ee94f2"]}, "legend": null}}},
{"data": {"name": "heatB"}, "layer": [
 {"mark": {"type": "rect", "stroke": "#b8b8b8", "strokeWidth": 0.7},
  "encoding": {"x": {"field": "c", "type": "nominal", "sort": null, "scale": {"range": [311.7, 408.3], "paddingInner": 0, "paddingOuter": 0}, "axis": {"orient": "bottom", "offset": -231, "title": null, "labelAngle": -45, "ticks": false, "domain": false, "labelFontSize": 8, "labelColor": "#1a1a1a", "labelPadding": 4}},
   "y": {"field": "g", "type": "nominal", "sort": null, "scale": {"range": [13, 376], "paddingInner": 0, "paddingOuter": 0}, "axis": {"orient": "right", "offset": -316.7, "title": null, "ticks": false, "domain": false, "labelFontSize": 8.2, "labelColor": "#1a1a1a", "labelPadding": 3}},
   "color": {"field": "v", "type": "quantitative", "scale": {"domain": [-35, 0, 35], "range": ["#0080e0", "#ffffff", "#ff1a1a"], "interpolate": "rgb"}, "legend": null}}},
 {"mark": {"type": "text", "fontSize": 9, "color": "#555", "dy": 2},
  "encoding": {"x": {"field": "c", "type": "nominal", "sort": null}, "y": {"field": "g", "type": "nominal", "sort": null},
   "text": {"condition": {"test": "datum.s == 1", "value": "*"}, "value": ""}}}
]},
{"data": {"name": "dendC"}, "layer": [
 {"mark": {"type": "rule", "color": "#5a5a5a", "strokeWidth": 1},
  "encoding": {"x": {"field": "h1", "type": "quantitative", "scale": {"domain": [0, 43], "range": [549, 506], "zero": false, "nice": false}, "axis": null},
   "x2": {"field": "h2"},
   "y": {"field": "y1", "type": "quantitative", "scale": {"domain": [0.5, 17.5], "range": [13, 307], "zero": false, "nice": false}, "axis": null},
   "y2": {"field": "y2"}}},
 {"data": {"values": [{"t": "C"}]}, "mark": {"type": "text", "fontSize": 11, "fontWeight": "bold", "color": "#000"},
  "encoding": {"x": {"datum": 48, "type": "quantitative"}, "y": {"datum": 0.73, "type": "quantitative"}, "text": {"field": "t"}}},
 {"data": {"values": [{"t": "D"}]}, "mark": {"type": "text", "fontSize": 11, "fontWeight": "bold", "color": "#000"},
  "encoding": {"x": {"datum": 49, "type": "quantitative"}, "y": {"datum": 21.26, "type": "quantitative"}, "text": {"field": "t"}}}
]},
{"data": {"name": "heatC"}, "transform": [{"filter": "datum.c == 'V7 vs V2 Test'"}],
 "mark": {"type": "rect", "stroke": "#ffffff", "strokeWidth": 0.4},
 "encoding": {"x": {"datum": "Phylum", "type": "nominal", "scale": {"range": [549.3, 558], "paddingInner": 0, "paddingOuter": 0}, "axis": null},
  "y": {"field": "g", "type": "nominal", "sort": null, "scale": {"range": [13, 307], "paddingInner": 0, "paddingOuter": 0}, "axis": null},
  "color": {"field": "p", "type": "nominal", "scale": {"domain": ["Actinobacteria","Bacteroidetes","Euryarchaeota","Firmicutes","Fusobacteria","Proteobacteria","Synergistetes","Verrucomicrobia"], "range": ["#f56fdc","#12d2d6","#f5a900","#00bdf2","#00c97a","#80c60f","#f78a7c","#ee94f2"]}, "legend": null}}},
{"data": {"name": "heatC"}, "layer": [
 {"mark": {"type": "rect", "stroke": "#b8b8b8", "strokeWidth": 0.7},
  "encoding": {"x": {"field": "c", "type": "nominal", "sort": null, "scale": {"range": [559.3, 632], "paddingInner": 0, "paddingOuter": 0}, "axis": {"orient": "bottom", "offset": -300, "title": null, "labelAngle": -45, "ticks": false, "domain": false, "labelFontSize": 8, "labelColor": "#1a1a1a", "labelPadding": 4}},
   "y": {"field": "g", "type": "nominal", "sort": null, "scale": {"range": [13, 307], "paddingInner": 0, "paddingOuter": 0}, "axis": {"orient": "right", "offset": -93, "title": null, "ticks": false, "domain": false, "labelFontSize": 8.2, "labelColor": "#1a1a1a", "labelPadding": 3}},
   "color": {"field": "v", "type": "quantitative", "scale": {"domain": [-35, 0, 35], "range": ["#0080e0", "#ffffff", "#ff1a1a"], "interpolate": "rgb"}, "legend": null}}},
 {"mark": {"type": "text", "fontSize": 9, "color": "#555", "dy": 2},
  "encoding": {"x": {"field": "c", "type": "nominal", "sort": null}, "y": {"field": "g", "type": "nominal", "sort": null},
   "text": {"condition": {"test": "datum.s == 1", "value": "*"}, "value": ""}}}
]},
{"data": {"name": "qmp"}, "transform": [{"filter": "datum.gen == 'Klebsiella'"}],
 "encoding": {
  "x": {"field": "vis", "type": "ordinal", "scale": {"type": "point", "domain": ["V2", "V4", "V6", "V7"], "range": [538, 709], "padding": 0.2}, "axis": {"orient": "bottom", "offset": -162.7, "title": null, "labelAngle": 0, "labelFontSize": 7, "labelColor": "#555", "tickColor": "#555", "domainColor": "#555", "tickSize": 3, "labelPadding": 2}},
  "color": {"field": "grp", "type": "nominal", "scale": {"domain": ["Control", "Test"], "range": ["#1b8db0", "#f6c46a"]},
   "legend": {"orient": "none", "legendX": 559, "legendY": 583, "direction": "horizontal", "title": "Group", "titleOrient": "left", "titleFontSize": 8.5, "titleFontWeight": "normal", "titleColor": "#222", "labelFontSize": 7, "labelColor": "#333", "symbolType": "stroke", "symbolStrokeWidth": 1.3, "symbolSize": 120, "columnPadding": 4, "padding": 0}}},
 "layer": [
  {"mark": {"type": "line", "strokeWidth": 1.2},
   "encoding": {"y": {"field": "m", "type": "quantitative", "scale": {"domain": [-0.69, 4.70], "range": [444.3, 379.3], "zero": false, "nice": false},
     "axis": {"orient": "left", "offset": -538, "values": [0, 1, 2, 3, 4], "title": ["log2 QMP", "normalized cell counts"], "titleFontSize": 8.5, "titleFontWeight": "normal", "titleColor": "#222", "titlePadding": 3, "titleLineHeight": 9.5, "labelFontSize": 7, "labelColor": "#555", "tickColor": "#555", "domainColor": "#555", "tickSize": 3, "labelPadding": 2}}}},
  {"mark": {"type": "rule", "strokeWidth": 1.2}, "encoding": {"y": {"field": "lo", "type": "quantitative"}, "y2": {"field": "hi"}}},
  {"mark": {"type": "tick", "thickness": 1.2, "size": 4}, "encoding": {"y": {"field": "lo", "type": "quantitative"}}},
  {"mark": {"type": "tick", "thickness": 1.2, "size": 4}, "encoding": {"y": {"field": "hi", "type": "quantitative"}}},
  {"mark": {"type": "point", "filled": true, "size": 8, "opacity": 1}, "encoding": {"y": {"field": "m", "type": "quantitative"}}},
  {"data": {"values": [{"gen": "Klebsiella", "t": "Klebsiella"}]}, "mark": {"type": "text", "fontSize": 8.5, "dx": 26, "color": "#222"},
   "encoding": {"x": {"datum": "V4", "type": "ordinal"}, "y": {"datum": 5.41, "type": "quantitative"}, "text": {"field": "t"}, "color": {"value": "#222"}}}
 ]},
{"data": {"name": "qmp"}, "transform": [{"filter": "datum.gen == 'Escherichia-Shigella'"}],
 "encoding": {
  "x": {"field": "vis", "type": "ordinal", "scale": {"type": "point", "domain": ["V2", "V4", "V6", "V7"], "range": [538, 709], "padding": 0.2}, "axis": {"orient": "bottom", "offset": -54, "title": null, "labelAngle": 0, "labelFontSize": 7, "labelColor": "#555", "tickColor": "#555", "domainColor": "#555", "tickSize": 3, "labelPadding": 2}},
  "color": {"field": "grp", "type": "nominal", "scale": {"domain": ["Control", "Test"], "range": ["#1b8db0", "#f6c46a"]}, "legend": null}},
 "layer": [
  {"mark": {"type": "line", "strokeWidth": 1.2},
   "encoding": {"y": {"field": "m", "type": "quantitative", "scale": {"domain": [11.48, 20.79], "range": [553, 486.7], "zero": false, "nice": false},
     "axis": {"orient": "left", "offset": -538, "values": [12, 14, 16, 18, 20], "title": ["log2 QMP", "normalized cell counts"], "titleFontSize": 8.5, "titleFontWeight": "normal", "titleColor": "#222", "titlePadding": 3, "titleLineHeight": 9.5, "labelFontSize": 7, "labelColor": "#555", "tickColor": "#555", "domainColor": "#555", "tickSize": 3, "labelPadding": 2}}}},
  {"mark": {"type": "rule", "strokeWidth": 1.2}, "encoding": {"y": {"field": "lo", "type": "quantitative"}, "y2": {"field": "hi"}}},
  {"mark": {"type": "tick", "thickness": 1.2, "size": 4}, "encoding": {"y": {"field": "lo", "type": "quantitative"}}},
  {"mark": {"type": "tick", "thickness": 1.2, "size": 4}, "encoding": {"y": {"field": "hi", "type": "quantitative"}}},
  {"mark": {"type": "point", "filled": true, "size": 8, "opacity": 1}, "encoding": {"y": {"field": "m", "type": "quantitative"}}},
  {"data": {"values": [{"gen": "Escherichia-Shigella", "t": "Escherichia-Shigella"}]}, "mark": {"type": "text", "fontSize": 8.5, "dx": 26, "color": "#222"},
   "encoding": {"x": {"datum": "V4", "type": "ordinal"}, "y": {"datum": 22.0, "type": "quantitative"}, "text": {"field": "t"}, "color": {"value": "#222"}}}
 ]}
],
"resolve": {"scale": {"x": "independent", "y": "independent", "color": "independent"}, "axis": {"x": "independent", "y": "independent"}, "legend": {"color": "independent"}}
}
